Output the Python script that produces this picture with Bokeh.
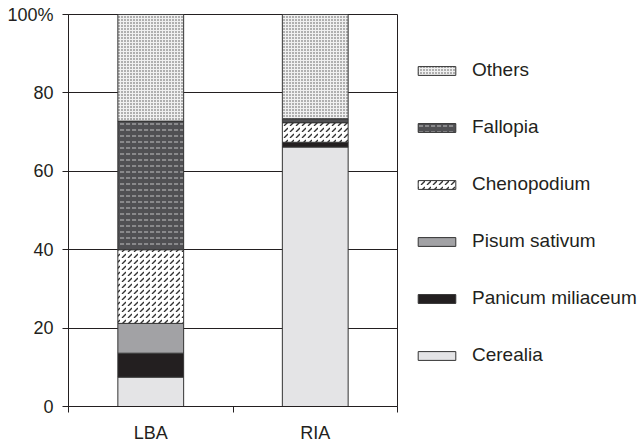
from bokeh.plotting import figure
from bokeh.models import ColumnDataSource, FixedTicker, Legend, LegendItem
from bokeh.embed import file_html
from bokeh.resources import INLINE

categories = ["LBA", "RIA"]
species = ["Cerealia", "Panicum miliaceum", "Pisum sativum", "Chenopodium", "Fallopia", "Others"]
cerealia = [7.5, 66.2]
panicum = [6.1, 1.2]
pisum = [7.6, 0.0]
chenopodium = [18.8, 5.0]
fallopia = [32.8, 1.0]
others = [27.2, 26.6]
y_ticks = [0, 20, 40, 60, 80, 100]
y_tick_labels = ["0", "20", "40", "60", "80", "100%"]

INK = "#231f20"
FONT = "Liberation Sans"

x_pos = [i + 0.5 for i in range(len(categories))]
src = ColumnDataSource(dict(
    x=x_pos,
    Cerealia=cerealia,
    Panicum=panicum,
    Pisum=pisum,
    Chenopodium=chenopodium,
    Fallopia=fallopia,
    Others=others,
))
keys = ["Cerealia", "Panicum", "Pisum", "Chenopodium", "Fallopia", "Others"]

p = figure(output_backend="svg", toolbar_location=None,
           x_range=(0, len(categories)), y_range=(0, 100),
           frame_width=329, frame_height=392,
           min_border_left=68, min_border_right=244, min_border_top=14, min_border_bottom=41)
p.background_fill_color = "white"
p.outline_line_color = INK
p.outline_line_width = 1

styles = [
    dict(fill_color="#e4e4e6"),
    dict(fill_color="#231f20"),
    dict(fill_color="#a2a2a5"),
    dict(fill_color="white", hatch_pattern="right_diagonal_dash", hatch_color="#333333", hatch_scale=6, hatch_weight=1.3),
    dict(fill_color="#505053", hatch_pattern="horizontal_dash", hatch_color="#b0b0b0", hatch_scale=6, hatch_weight=1.2),
    dict(fill_color="#f0f0f0", hatch_pattern="dot", hatch_color="#505050", hatch_scale=3, hatch_weight=1.4),
]

renderers = []
bottom = [0.0] * len(categories)
for k, st in zip(keys, styles):
    vals = src.data[k]
    top = [b + v for b, v in zip(bottom, vals)]
    src.data[k + "_b"] = bottom
    src.data[k + "_t"] = top
    r = p.vbar(x="x", bottom=k + "_b", top=k + "_t", width=0.4, source=src,
               line_color="#333333", line_width=1, **st)
    renderers.append(r)
    bottom = top

items = [LegendItem(label=lab, renderers=[r]) for lab, r in zip(species, renderers)]
items = items[::-1]
legend = Legend(items=items, location=(16, 40), orientation="vertical",
                glyph_width=47, glyph_height=11, label_height=21, spacing=35,
                label_standoff=12, padding=0, margin=0,
                label_text_font=FONT, label_text_font_size="19px", label_text_color=INK,
                background_fill_alpha=0, border_line_alpha=0)
p.add_layout(legend, "right")

# axes
p.xaxis.ticker = FixedTicker(ticks=x_pos, minor_ticks=[float(i) for i in range(len(categories) + 1)])
p.xaxis.major_label_overrides = {x: c for x, c in zip(x_pos, categories)}
p.xaxis.major_tick_out = 0
p.xaxis.major_tick_in = 0
p.xaxis.minor_tick_out = 6
p.xaxis.minor_tick_in = 0
p.xaxis.minor_tick_line_color = INK
p.xaxis.major_label_standoff = 10

p.yaxis.ticker = FixedTicker(ticks=y_ticks)
p.yaxis.major_label_overrides = {t: l for t, l in zip(y_ticks, y_tick_labels)}
p.yaxis.major_tick_out = 6
p.yaxis.major_tick_in = 0
p.yaxis.minor_tick_line_color = None
p.yaxis.major_label_standoff = 9

for ax in (p.xaxis, p.yaxis):
    ax.axis_line_color = INK
    ax.major_tick_line_color = INK
    ax.major_label_text_font = FONT
    ax.major_label_text_font_size = "18px"
    ax.major_label_text_color = INK

p.xgrid.grid_line_color = None
p.ygrid.ticker = FixedTicker(ticks=y_ticks)
p.ygrid.grid_line_color = INK
p.ygrid.grid_line_width = 1

open("out.html", "w").write(file_html(p, INLINE))
